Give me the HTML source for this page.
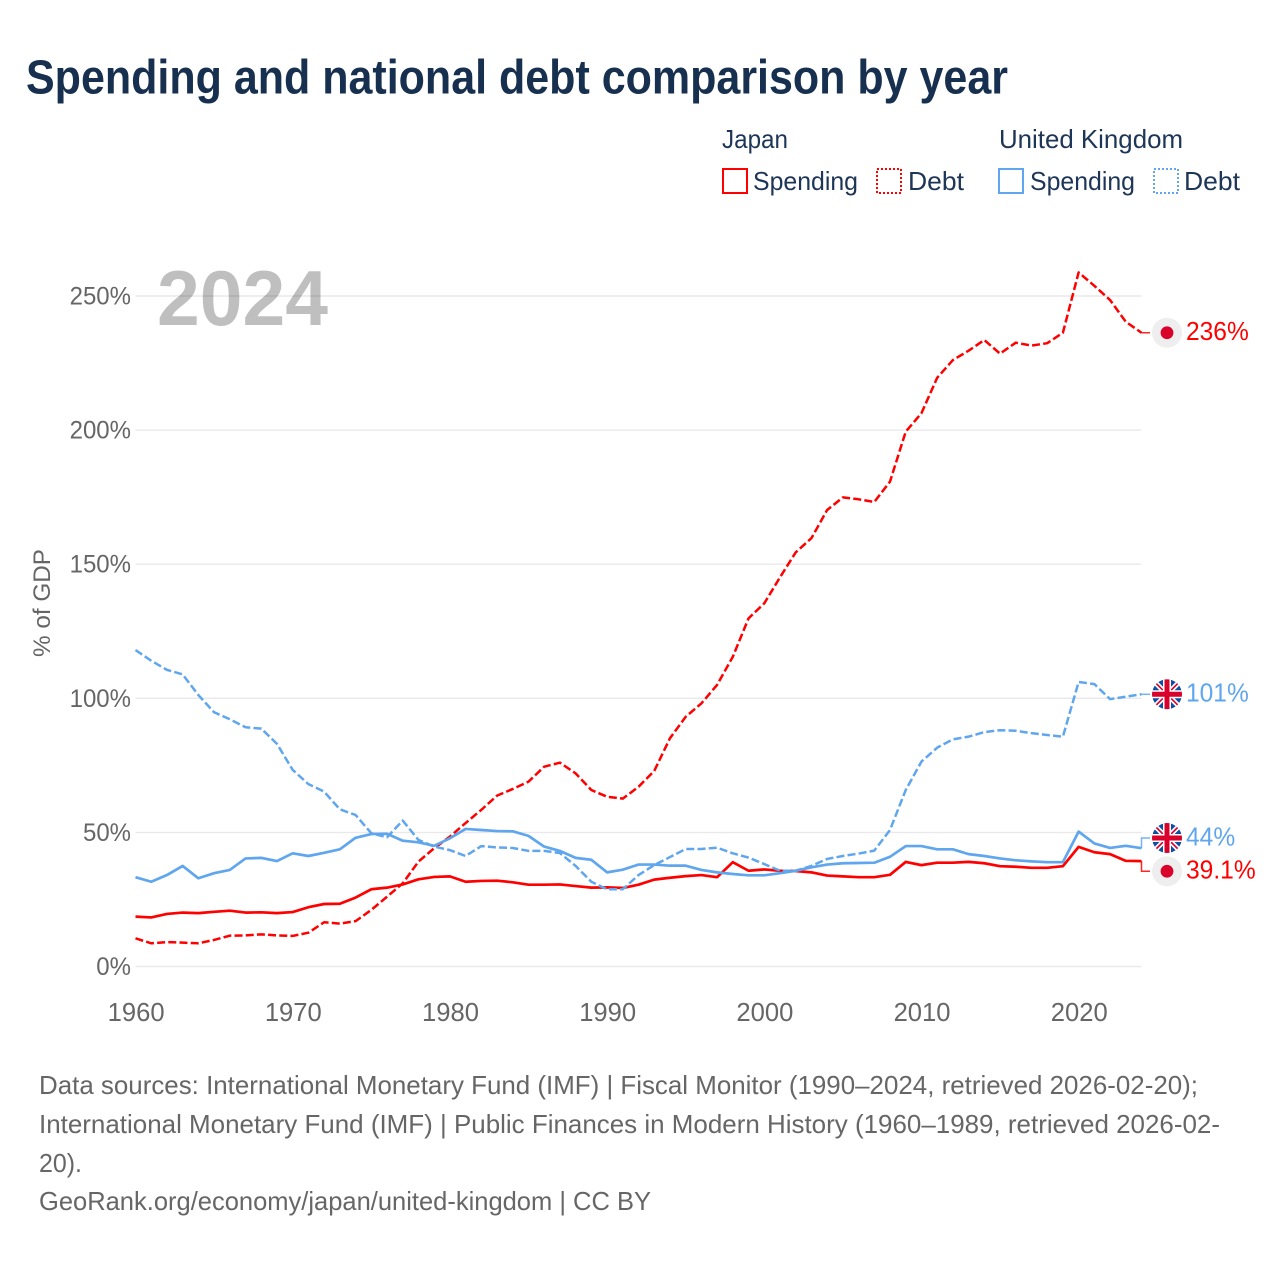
<!DOCTYPE html>
<html lang="en">
<head>
<meta charset="utf-8">
<title>Spending and national debt comparison by year</title>
<style>
  html, body { margin: 0; padding: 0; background: #fff; }
  svg { display: block; font-family: "Liberation Sans", sans-serif; }
</style>
</head>
<body>
<svg id="chart" width="1280" height="1280" viewBox="0 0 1280 1280" xmlns="http://www.w3.org/2000/svg">
  <rect width="1280" height="1280" fill="#ffffff"/>
  <text x="26" y="93.5" font-size="48" font-weight="700" fill="#18304f" textLength="982" lengthAdjust="spacingAndGlyphs">Spending and national debt comparison by year</text>

  <g font-size="26" fill="#1d3557">
    <text x="722" y="148" textLength="66" lengthAdjust="spacingAndGlyphs">Japan</text>
    <text x="999" y="148" textLength="184" lengthAdjust="spacingAndGlyphs">United Kingdom</text>
    <g>
      <rect x="723" y="169" width="24" height="24" fill="none" stroke="#ff0000" stroke-width="2"/>
      <text x="753" y="190" textLength="105" lengthAdjust="spacingAndGlyphs">Spending</text>
    </g>
    <g>
      <rect x="877" y="169" width="24" height="24" fill="none" stroke="#ff0000" stroke-width="2" stroke-dasharray="2 2"/>
      <text x="908" y="190" textLength="56" lengthAdjust="spacingAndGlyphs">Debt</text>
    </g>
    <g>
      <rect x="999" y="169" width="24" height="24" fill="none" stroke="#5fa6ee" stroke-width="2"/>
      <text x="1030" y="190" textLength="105" lengthAdjust="spacingAndGlyphs">Spending</text>
    </g>
    <g>
      <rect x="1154" y="169" width="24" height="24" fill="none" stroke="#5fa6ee" stroke-width="2" stroke-dasharray="2 2"/>
      <text x="1184" y="190" textLength="56" lengthAdjust="spacingAndGlyphs">Debt</text>
    </g>
  </g>

  <g id="grid"></g>
  <text x="157" y="325" font-size="78" font-weight="700" fill="#000000" fill-opacity="0.25" textLength="171" lengthAdjust="spacingAndGlyphs">2024</text>
  <g id="yticks" font-size="25" fill="#666666" text-anchor="end"></g>
  <g id="xticks" font-size="25.6" fill="#666666" text-anchor="middle"></g>
  <text transform="translate(50 657) rotate(-90)" font-size="24.5" fill="#666666" textLength="108" lengthAdjust="spacingAndGlyphs">% of GDP</text>
  <g id="series"></g>
  <g id="endlabels"></g>

  <g font-size="26" fill="#666666">
    <text x="39" y="1094" textLength="1159" lengthAdjust="spacingAndGlyphs">Data sources: International Monetary Fund (IMF) | Fiscal Monitor (1990–2024, retrieved 2026-02-20);</text>
    <text x="39" y="1133" textLength="1181" lengthAdjust="spacingAndGlyphs">International Monetary Fund (IMF) | Public Finances in Modern History (1960–1989, retrieved 2026-02-</text>
    <text x="39" y="1172" textLength="43" lengthAdjust="spacingAndGlyphs">20).</text>
    <text x="39" y="1210" textLength="612" lengthAdjust="spacingAndGlyphs">GeoRank.org/economy/japan/united-kingdom | CC BY</text>
  </g>
</svg>
<script>
const startYear = 1960;
const xTickYears = [1960, 1970, 1980, 1990, 2000, 2010, 2020];
const yTickValues = [0, 50, 100, 150, 200, 250];

const japanDebt = [10.5,8.65,9.1,8.9,8.65,9.9,11.5,11.6,12.0,11.6,11.4,12.6,16.5,16.0,16.9,21.1,26.0,31.0,39.1,44.1,48.4,53.5,58.4,63.7,66.2,68.9,74.5,76.0,72.0,65.8,63.3,62.6,67.0,72.9,85.1,93.1,98.1,105.0,115.5,129.8,135.4,145.1,154.4,159.7,170.2,174.9,174.2,173.2,180.8,199.4,206.3,219.5,226.1,229.6,233.6,228.5,232.6,231.5,232.4,236.3,258.8,253.8,248.5,240.4,236.3];
const japanSpending = [18.6,18.3,19.6,20.1,19.9,20.4,20.8,20.1,20.2,19.9,20.3,22.1,23.3,23.4,25.7,28.8,29.4,30.6,32.5,33.4,33.6,31.6,31.9,32.0,31.4,30.5,30.5,30.6,30.0,29.4,29.5,29.3,30.5,32.4,33.1,33.7,34.1,33.3,38.9,35.7,36.2,35.7,35.6,35.1,33.9,33.6,33.3,33.3,34.2,39.0,37.8,38.7,38.7,39.0,38.5,37.4,37.2,36.8,36.8,37.4,44.6,42.6,41.9,39.4,39.3];
const ukDebt = [118.0,114.0,110.6,108.9,101.2,94.8,92.2,89.2,88.7,83.0,73.3,68.0,65.2,58.6,56.5,49.7,48.2,54.4,47.2,44.7,43.4,41.2,44.9,44.4,44.2,43.1,43.1,42.3,37.5,31.6,28.8,28.8,34.1,37.8,40.8,43.8,43.8,44.3,42.2,40.6,38.2,35.7,35.7,37.5,40.1,41.2,42.1,43.2,50.9,65.8,76.4,81.6,84.7,85.7,87.4,88.1,87.9,87.0,86.3,85.7,106.1,105.3,99.7,100.6,101.5];
const ukSpending = [33.3,31.6,34.1,37.5,32.9,34.8,36.0,40.3,40.5,39.3,42.2,41.2,42.4,43.7,48.0,49.4,49.5,46.9,46.3,45.0,47.8,51.3,50.9,50.5,50.4,48.7,44.7,43.1,40.5,39.8,35.1,36.1,38.0,38.0,37.6,37.6,36.0,35.1,34.5,34.0,34.0,34.8,35.7,37.0,38.0,38.5,38.6,38.7,40.9,44.9,44.9,43.7,43.7,41.9,41.2,40.3,39.6,39.2,38.9,38.9,50.3,45.9,44.2,45.0,44.1];
const endLabelText = { japanDebt: "236%", ukDebt: "101%", ukSpending: "44%", japanSpending: "39.1%" };

const NS = "http://www.w3.org/2000/svg";
const RED = "#ff0000", BLUE = "#5fa6ee";
const plotLeft = 135.5, plotRight = 1141.5, yearStep = (plotRight - plotLeft) / 64;
const yZero = 966.5, pxPerPercent = 2.682;
const x = year => plotLeft + (year - startYear) * yearStep;
const y = value => yZero - value * pxPerPercent;

function make(tag, attrs, parent) {
  const el = document.createElementNS(NS, tag);
  for (const k in attrs) el.setAttribute(k, attrs[k]);
  parent.appendChild(el);
  return el;
}

const gridGroup = document.getElementById("grid");
const yTickGroup = document.getElementById("yticks");
yTickValues.forEach(v => {
  const line = make("line", { x1: plotLeft, x2: plotRight, y1: y(v), y2: y(v), stroke: "#e9e9e9", "stroke-width": 1.4 }, gridGroup);
  
  
  const t = make("text", { x: 131, y: y(v) + 8.5 }, yTickGroup);
  t.textContent = v + "%";
  
  
  t.setAttribute("textLength", (t.getComputedTextLength() * 0.96).toFixed(1));
  t.setAttribute("lengthAdjust", "spacingAndGlyphs");
});

const xTickGroup = document.getElementById("xticks");
xTickYears.forEach(yr => {
  const t = make("text", { x: x(yr) + 0.6, y: 1021 }, xTickGroup);
  t.textContent = String(yr);
  
  
});

const seriesGroup = document.getElementById("series");
function drawSeries(values, color, dashed, name) {
  const d = values.map((v, i) => (i ? "L" : "M") + x(startYear + i).toFixed(2) + " " + y(v).toFixed(2)).join("");
  const attrs = { d: d, fill: "none", stroke: color, "stroke-width": dashed ? 2.5 : 2.7, "stroke-linejoin": "round" };
  if (dashed) attrs["stroke-dasharray"] = "8 3.2";
  const p = make("path", attrs, seriesGroup);
  
  
}
drawSeries(japanSpending, RED, false, "line-japan-spending");
drawSeries(japanDebt, RED, true, "line-japan-debt");
drawSeries(ukSpending, BLUE, false, "line-uk-spending");
drawSeries(ukDebt, BLUE, true, "line-uk-debt");

/* end labels: placed at the last value, pushed apart when they would overlap */
const lastOf = a => a[a.length - 1];
const ends = [
  { key: "japanDebt", last: lastOf(japanDebt), color: RED, flag: "jp", name: "japan-debt" },
  { key: "ukDebt", last: lastOf(ukDebt), color: BLUE, flag: "uk", name: "uk-debt" },
  { key: "ukSpending", last: lastOf(ukSpending), color: BLUE, flag: "uk", name: "uk-spending" },
  { key: "japanSpending", last: lastOf(japanSpending), color: RED, flag: "jp", name: "japan-spending" }
];
ends.forEach(e => { e.py = y(e.last); e.ly = e.py; });
for (let i = 0; i < ends.length - 1; i++) {
  const a = ends[i], b = ends[i + 1], gap = 33.2;
  if (b.ly - a.ly < gap) {
    const mid = (a.ly + b.ly) / 2;
    a.ly = mid - gap / 2;
    b.ly = mid + gap / 2;
  }
}

const labelGroup = document.getElementById("endlabels");
const defs = make("defs", {}, labelGroup);
const clip = make("clipPath", { id: "flag-clip" }, defs);
make("circle", { r: 15 }, clip);

const jpFlag = '<circle r="15" fill="#eeeeee"/><circle r="6.4" fill="#d9002b"/>';
const ukFlag = '<g clip-path="url(#flag-clip)"><circle r="15" fill="#0d4ea6"/>' +
  '<path d="M-15 -15L15 15M15 -15L-15 15" stroke="#ffffff" stroke-width="5"/>' +
  '<path d="M-15 -15L15 15M15 -15L-15 15" stroke="#d9002b" stroke-width="1.6"/>' +
  '<path d="M0 -15V15M-15 0H15" stroke="#ffffff" stroke-width="8"/>' +
  '<path d="M0 -15V15M-15 0H15" stroke="#d9002b" stroke-width="5"/></g>';

ends.forEach(e => {
  const c = make("path", { d: "M" + plotRight + " " + e.py.toFixed(2) + "V" + e.ly.toFixed(2) + "H1150", fill: "none", stroke: e.color, "stroke-width": 1.5, "stroke-opacity": 0.85 }, labelGroup);
  
  
  const f = make("g", { transform: "translate(1167 " + e.ly.toFixed(2) + ")" }, labelGroup);
  f.innerHTML = e.flag === "jp" ? jpFlag : ukFlag;
  
  
  const t = make("text", { x: 1186, y: (e.ly + 7.2).toFixed(2), "font-size": 26, fill: e.color }, labelGroup);
  t.textContent = endLabelText[e.key];
  
  
  t.setAttribute("textLength", (t.getComputedTextLength() * 0.945).toFixed(1));
  t.setAttribute("lengthAdjust", "spacingAndGlyphs");
});
</script>
</body>
</html>
